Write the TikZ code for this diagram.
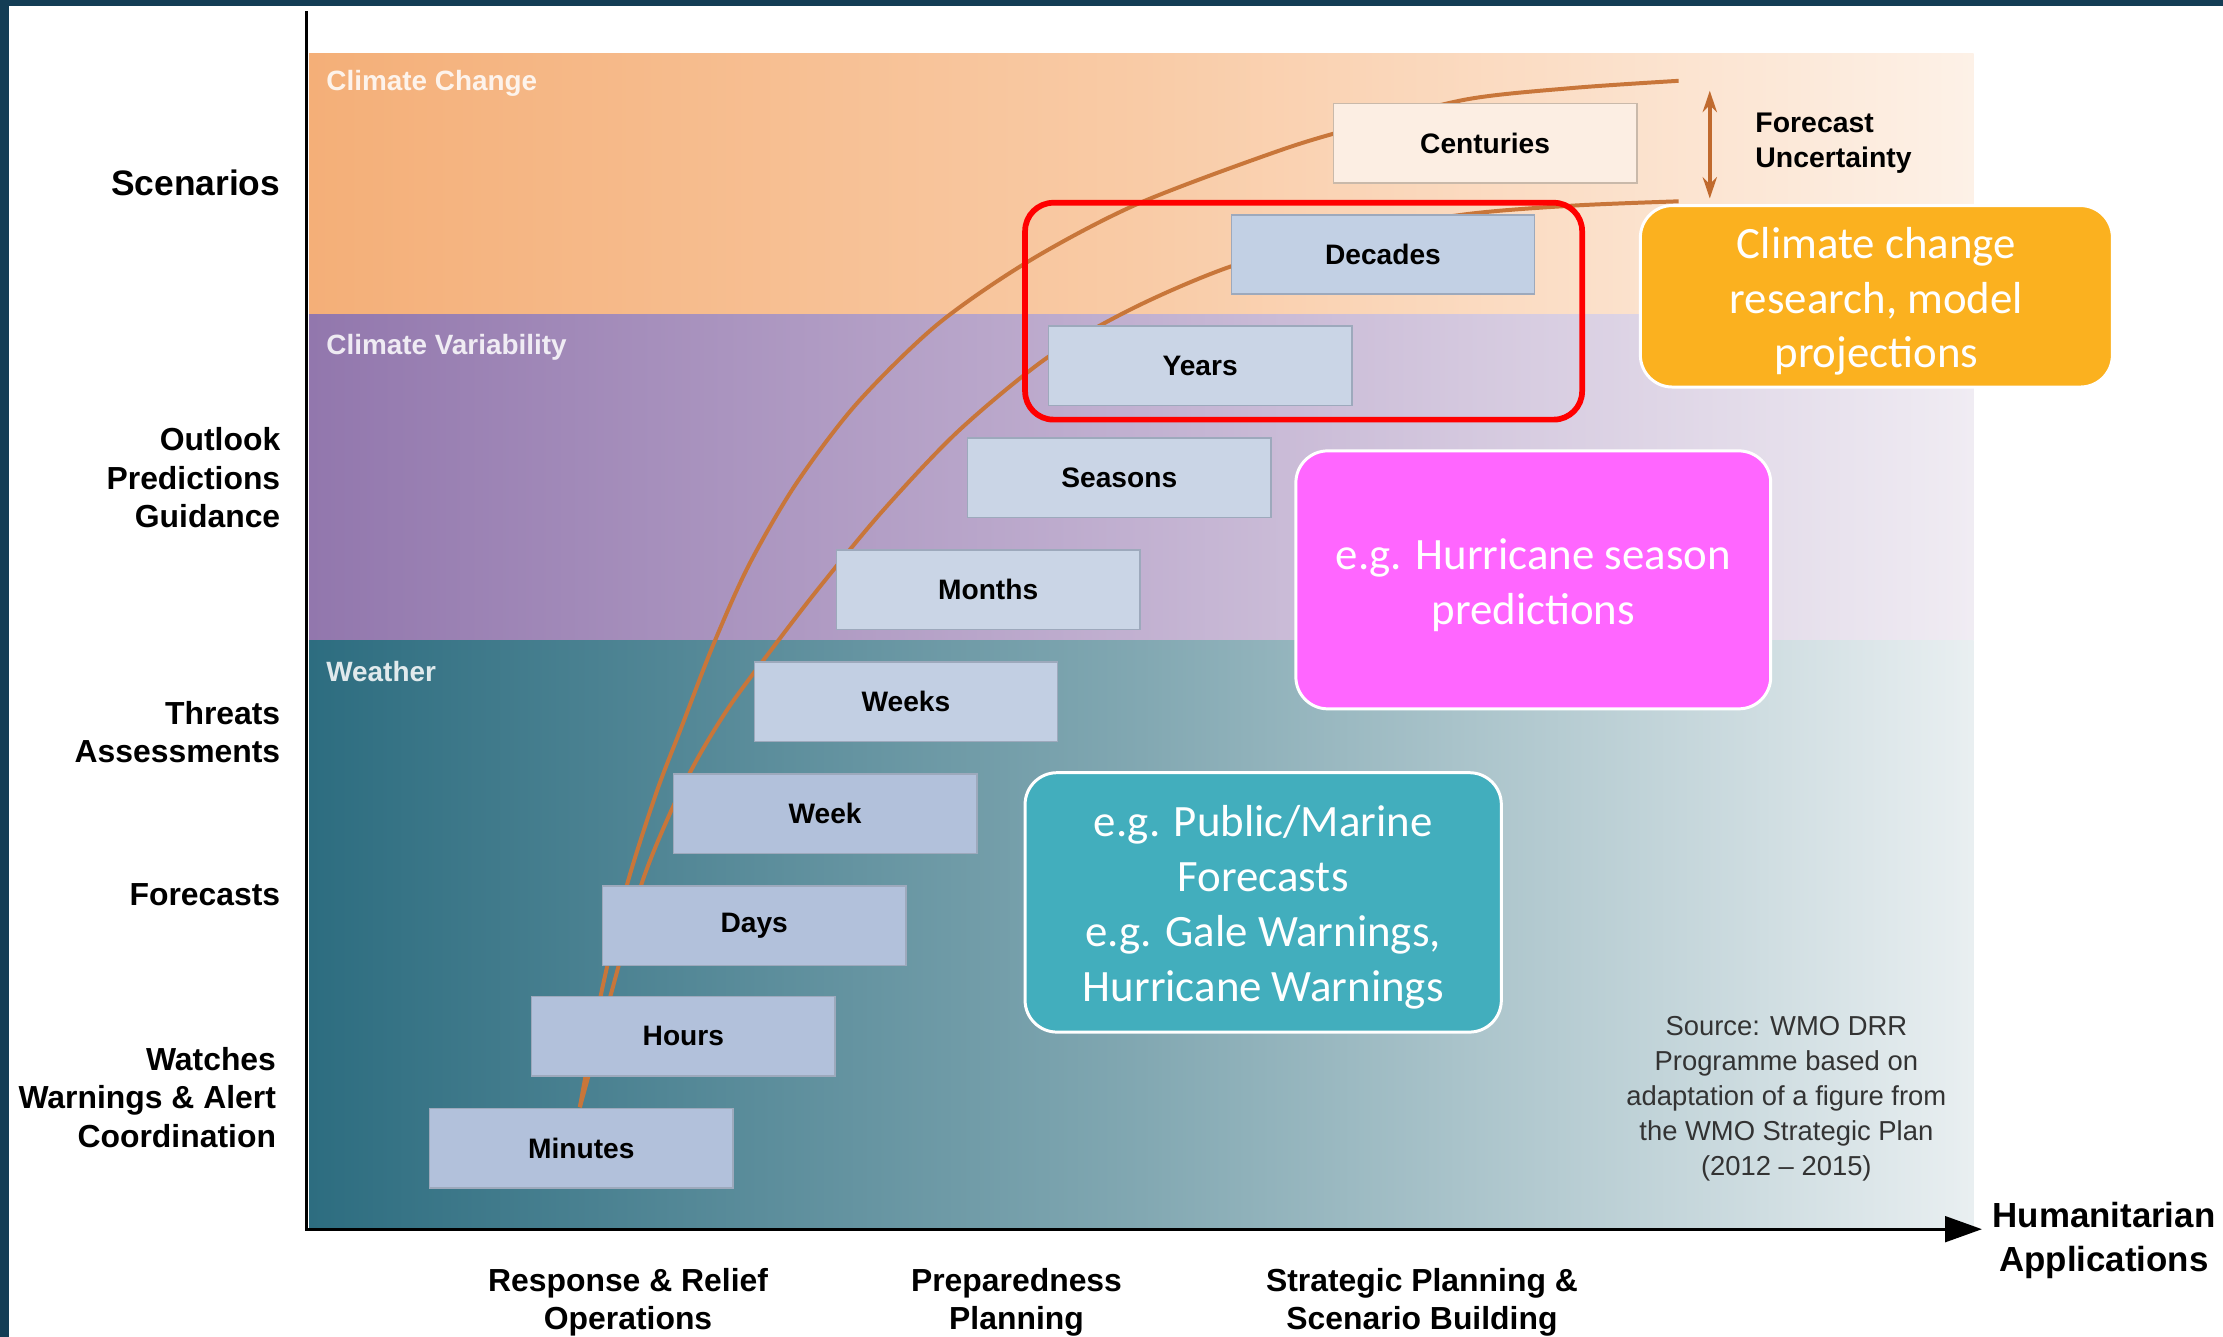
\documentclass[tikz,border=0pt]{standalone}
\usepackage{fontspec}
\setmainfont{Liberation Sans}
\newfontfamily\calloutfont{Carlito}
\usetikzlibrary{positioning,arrows.meta}

\definecolor{frameblue}{HTML}{143D55}
\definecolor{orangeL}{HTML}{F4AF78}
\definecolor{orangeM}{HTML}{F9CBA6}
\definecolor{orangeR}{HTML}{FDF1E7}
\definecolor{purpleL}{HTML}{9277AD}
\definecolor{purpleM}{HTML}{C2B1D1}
\definecolor{purpleR}{HTML}{F0ECF3}
\definecolor{tealL}{HTML}{2D6D80}
\definecolor{tealM}{HTML}{82A8B2}
\definecolor{tealR}{HTML}{E9EFF1}
\definecolor{boxblue}{HTML}{B2C1DB}
\definecolor{boxmid}{HTML}{C2CFE3}
\definecolor{boxpale}{HTML}{CAD5E6}
\definecolor{boxdec}{HTML}{C2D0E4}
\definecolor{boxcent}{HTML}{FCEEE3}
\definecolor{boxedge}{HTML}{9DA9BC}
\definecolor{centedge}{HTML}{C9B9AA}
\definecolor{curvebrown}{HTML}{C8763A}
\definecolor{arrowbrown}{HTML}{C06A2E}
\definecolor{researchorange}{HTML}{FBB11F}
\definecolor{seasonpink}{HTML}{FF66FF}
\definecolor{weatherteal}{HTML}{42AEBD}
\definecolor{sourcegray}{HTML}{333333}

\tikzset{
  timebox/.style={draw=boxedge, line width=0.6pt, minimum width=4.28cm,
    minimum height=1.12cm, inner sep=0pt,
    font=\bfseries\fontsize{11.3}{13}\selectfont},
  sidelabel/.style={anchor=east, align=right, inner sep=0pt,
    font=\bfseries\fontsize{12.8}{15.4}\selectfont},
  bottomlabel/.style={align=center,
    font=\bfseries\fontsize{12.8}{15.4}\selectfont},
  bandlabel/.style={anchor=west, text=white, text opacity=0.85,
    font=\bfseries\fontsize{11.2}{13}\selectfont},
  callout/.style={draw=white, line width=1.2pt, rounded corners=0.45cm,
    text=white, align=center, inner sep=0pt,
    font=\calloutfont\fontsize{18}{22}\selectfont},
  timecurve/.style={curvebrown, line width=1.6pt},
}

\begin{document}
\begin{tikzpicture}[x=0.02cm, y=-0.02cm]
\useasboundingbox (0,0) rectangle (1568,943);
% dark slide edge
\fill[frameblue] (0,0) rectangle (6,943);
\fill[frameblue] (0,0) rectangle (1568,4);

% bands
\shade[left color=orangeL, right color=orangeR, middle color=orangeM] (218,38) rectangle (1392,222);
\shade[left color=purpleL, right color=purpleR, middle color=purpleM] (218,222) rectangle (1392,452);
\shade[left color=tealL, right color=tealR, middle color=tealM] (218,452) rectangle (1392,867);

\node[bandlabel] (cchange) at (224,59) {Climate Change};
\node[bandlabel] (cvar) at (224,245) {Climate Variability};
\node[bandlabel] (weather) at (224,474) {Weather};

% forecast curves
\draw[timecurve] plot[smooth] coordinates {(409,781) (424,701) (442,625) (463,559)
  (481,512) (503,455) (528,399) (561,342) (604,285) (661,229) (726,184) (802,144)
  (903,106) (960,89) (1035,70) (1110,62) (1184,57)};
\draw[timecurve] plot[smooth] coordinates {(409,781) (431,701) (452,625) (472,575)
  (492,535) (514,499) (539,465) (575,418) (622,361) (676,304) (739,252) (800,217)
  (868,188) (950,165) (1035,151) (1110,145) (1184,142)};

% time scales
\node[timebox, fill=boxblue] (minutes) at (410,810) {Minutes};
\node[timebox, fill=boxblue] (hours) at (482,731) {Hours};
\node[timebox, fill=boxblue] (days) at (532,653) {Days};
\node[timebox, fill=boxblue] (week) at (582,574) {Week};
\node[timebox, fill=boxmid] (weeks) at (639,495) {Weeks};
\node[timebox, fill=boxpale] (months) at (697,416) {Months};
\node[timebox, fill=boxpale] (seasons) at (789.5,337) {Seasons};
\node[timebox, fill=boxpale] (years) at (846.5,258) {Years};
\node[timebox, fill=boxdec] (decades) at (975.5,179.5) {Decades};
\node[timebox, fill=boxcent, draw=centedge] (centuries) at (1047.5,101) {Centuries};

% uncertainty
\coordinate (unctop) at (1206,64);
\coordinate (uncbot) at (1206,140);
\draw[arrowbrown, line width=1.4pt, {Stealth[length=0.3cm,width=0.2cm]}-{Stealth[length=0.3cm,width=0.2cm]}] (unctop) -- (uncbot);
\node[anchor=west, align=left, font=\bfseries\fontsize{11.4}{13.7}\selectfont] (uncert) at (1232,101) {Forecast\\Uncertainty};

% axes
\coordinate (ytop) at (216,8);
\coordinate (origin) at (216,867);
\coordinate (xend) at (1398,867);
\draw[line width=1.3pt, -{Triangle[length=0.52cm,width=0.36cm]}] (ytop) -- (origin) -- (xend);

% left labels
\node[sidelabel, font=\bfseries\fontsize{14.2}{17}\selectfont] (scen) at (198,129) {Scenarios};
\node[sidelabel] (outlook) at (198,337) {Outlook\\Predictions\\Guidance};
\node[sidelabel] (threats) at (198,516.5) {Threats\\Assessments};
\node[sidelabel] (fcasts) at (198,631) {Forecasts};
\node[sidelabel] (watches) at (195,774) {Watches\\Warnings \& Alert\\Coordination};

% bottom labels
\node[bottomlabel] (response) at (443,918.5) {Response \& Relief\\Operations};
\node[bottomlabel] (prepared) at (717,918.5) {Preparedness\\Planning};
\node[bottomlabel] (strategic) at (1003,918.5) {Strategic Planning \&\\Scenario Building};
\node[bottomlabel, font=\bfseries\fontsize{14}{17.6}\selectfont] (humanit) at (1484,875) {Humanitarian\\Applications};

% source
\node[align=center, text=sourcegray, font=\fontsize{11}{14}\selectfont] (source) at (1260,775)
  {Source: WMO DRR\\Programme based on\\adaptation of a figure from\\the WMO Strategic Plan\\(2012 -- 2015)};

% highlight and callouts
\node[draw=red, line width=2.3pt, rounded corners=0.4cm, minimum width=7.86cm,
  minimum height=3.06cm] (highlight) at (919.5,219.5) {};
\node[callout, fill=researchorange, minimum width=6.66cm, minimum height=2.56cm] (research)
  at (1323.5,209) {\parbox{6cm}{\centering\vspace*{4pt}Climate change\\research, model\\projections}};
\node[callout, fill=seasonpink, minimum width=6.7cm, minimum height=3.64cm] (seasonbox)
  at (1081.5,409) {\parbox{6cm}{\centering\vspace*{4pt}e.g. Hurricane season\\predictions}};
\node[callout, fill=weatherteal, minimum width=6.72cm, minimum height=3.66cm] (marine)
  at (891,636.5) {\parbox{6cm}{\centering\vspace*{4pt}e.g. Public/Marine\\Forecasts\\e.g. Gale Warnings,\\Hurricane Warnings}};
\end{tikzpicture}
\end{document}
